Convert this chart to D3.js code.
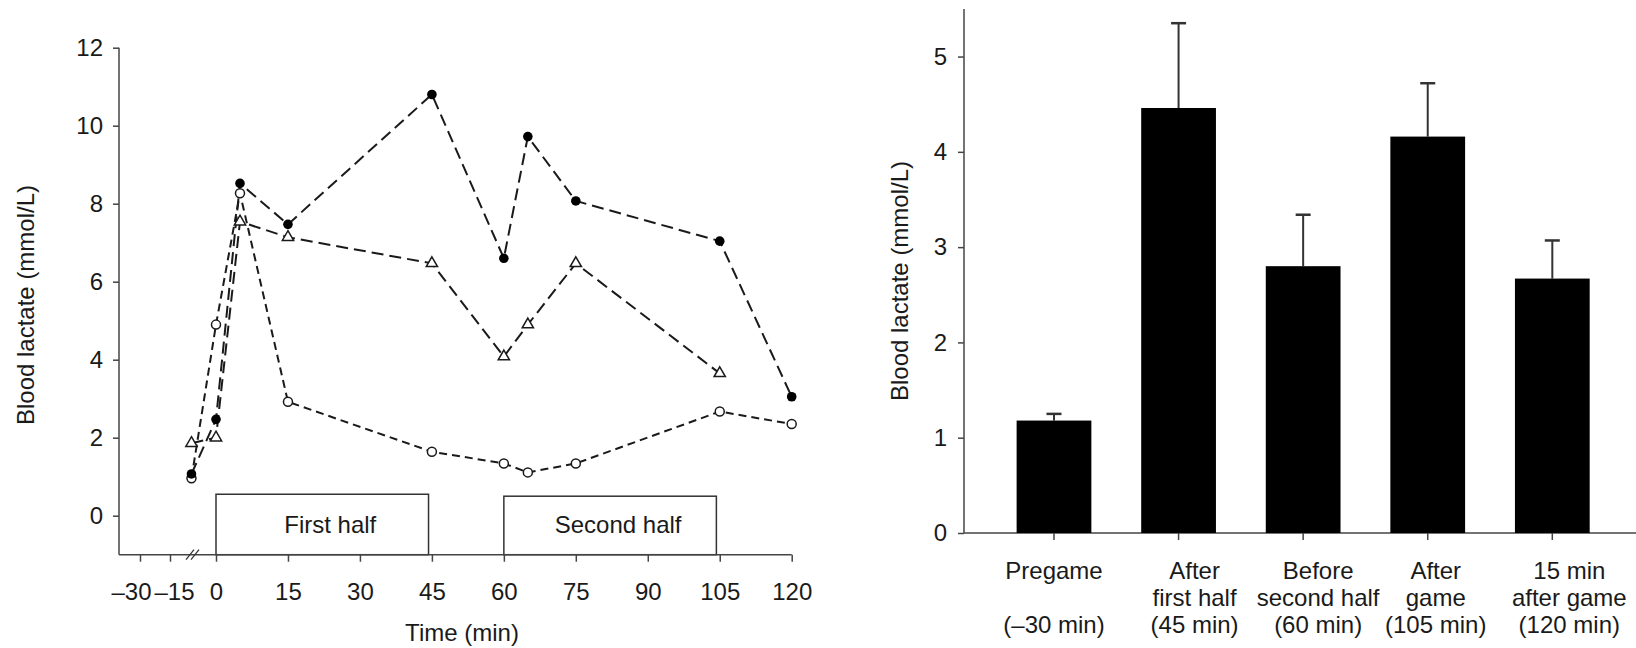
<!DOCTYPE html>
<meta charset="utf-8">
<script src="https://d3js.org/d3.v7.min.js"></script>
<style>
  body { margin: 0; background: #fff; }
  text { font-family: "Liberation Sans", Arial, sans-serif; fill: #1a1a1a; }
</style>
<svg id="chart" width="1636" height="648"></svg>
<script>

// ---- data: left panel (lactate over time, three players) ----
const times = [-8, 0, 5, 15, 45, 60, 65, 75, 105, 120];   // -8 = pregame point drawn left of the break
const filledSeries = [1.07, 2.47, 8.52, 7.47, 10.8, 6.6, 9.72, 8.07, 7.04, 3.05];
const triangleSeries = [1.86, 2.0, 7.54, 7.14, 6.47, 4.08, 4.9, 6.47, 3.65, null];
const openSeries = [0.96, 4.9, 8.27, 2.92, 1.64, 1.34, 1.11, 1.34, 2.67, 2.35];
const timeTicks = [-30, -15, 0, 15, 30, 45, 60, 75, 90, 105, 120];
const lactateTicks = [0, 2, 4, 6, 8, 10, 12];
const halfNames = ["First half", "Second half"];
const halfStart = [0, 60];
const halfEnd = [44.3, 104.3];
const halfTop = [0.55, 0.5];

// ---- data: right panel (mean +/- SD) ----
const phaseLine1 = ["Pregame", "After", "Before", "After", "15 min"];
const phaseLine2 = ["", "first half", "second half", "game", "after game"];
const phaseLine3 = ["(\u201330 min)", "(45 min)", "(60 min)", "(105 min)", "(120 min)"];
const barMeans = [1.18, 4.46, 2.80, 4.16, 2.67];
const barSD = [0.07, 0.89, 0.54, 0.56, 0.40];
const barTicks = [0, 1, 2, 3, 4, 5];

const svg = d3.select("#chart");
const ink = "#1a1a1a";

// =============== left panel ===============
const x = d3.scaleLinear()
  .domain([-30, -15, 0, 120])
  .range([140, 170, 216, 791.7]);   // broken axis: pre-game part compressed
const y = d3.scaleLinear()
  .domain([-1, 12])
  .range([554.7, 47.7]);

const left = svg.append("g");

// half boxes
halfNames.forEach(function (name, i) {
  left.append("rect")
    .attr("x", x(halfStart[i]))
    .attr("y", y(halfTop[i]))
    .attr("width", x(halfEnd[i]) - x(halfStart[i]))
    .attr("height", y(-1) - y(halfTop[i]))
    .attr("fill", "none")
    .attr("stroke", "#333")
    .attr("stroke-width", 1.5);
  left.append("text")
    .attr("x", (x(halfStart[i]) + x(halfEnd[i])) / 2 + 8)
    .attr("y", 533)
    .attr("text-anchor", "middle")
    .attr("font-size", 24)
    .text(name);
});

// axes
const yAxisL = left.append("g")
  .attr("transform", "translate(119,0)")
  .call(d3.axisLeft(y).tickValues(lactateTicks).tickSize(6).tickSizeOuter(0).tickPadding(10));
yAxisL.select(".domain").remove();
left.append("line")
  .attr("x1", 119).attr("x2", 119)
  .attr("y1", y(12)).attr("y2", y(-1))
  .attr("stroke", "#444").attr("stroke-width", 1.5);

const xAxisL = left.append("g")
  .attr("transform", `translate(0,${y(-1)})`)
  .call(d3.axisBottom(x).tickValues(timeTicks).tickSize(7).tickPadding(21)
    .tickFormat(d => d < 0 ? "\u2013" + Math.abs(d) : d));
xAxisL.select(".domain").remove();
// the two pre-game labels crowd each other; nudge them apart
xAxisL.selectAll(".tick text").attr("dx", d => d === -30 ? -9 : d === -15 ? 4 : 0);
left.append("line")
  .attr("x1", 119).attr("x2", x(120))
  .attr("y1", y(-1)).attr("y2", y(-1))
  .attr("stroke", "#444").attr("stroke-width", 1.5);

[yAxisL, xAxisL].forEach(function (g) {
  g.selectAll(".tick line").attr("stroke", "#444").attr("stroke-width", 1.5);
  g.selectAll(".tick text").attr("font-size", 24).attr("fill", ink)
    .style("font-family", "'Liberation Sans', Arial, sans-serif");
});

// axis break marks
[0, 5].forEach(function (off) {
  left.append("line")
    .attr("x1", 186 + off).attr("x2", 194 + off)
    .attr("y1", y(-1) + 5).attr("y2", y(-1) - 5)
    .attr("stroke", "#333").attr("stroke-width", 1.3);
});

left.append("text")
  .attr("x", 462).attr("y", 641)
  .attr("text-anchor", "middle")
  .attr("font-size", 24)
  .text("Time (min)");
left.append("text")
  .attr("transform", "translate(34,305) rotate(-90)")
  .attr("text-anchor", "middle")
  .attr("font-size", 24)
  .text("Blood lactate (mmol/L)");

// series lines
function seriesLine(values, dash) {
  const pts = times.map((t, i) => [t, values[i]]).filter(p => p[1] != null);
  left.append("path")
    .datum(pts)
    .attr("d", d3.line().x(d => x(d[0])).y(d => y(d[1])))
    .attr("fill", "none")
    .attr("stroke", ink)
    .attr("stroke-width", 2)
    .attr("stroke-dasharray", dash);
  return pts;
}
const openPts = seriesLine(openSeries, "8,5");
const triPts = seriesLine(triangleSeries, "12,6");
const filledPts = seriesLine(filledSeries, "12,6");

left.append("g").selectAll("circle")
  .data(openPts).join("circle")
  .attr("cx", d => x(d[0])).attr("cy", d => y(d[1]))
  .attr("r", 4.5)
  .attr("fill", "#fff").attr("stroke", ink).attr("stroke-width", 1.5);

left.append("g").selectAll("path")
  .data(triPts).join("path")
  .attr("transform", d => `translate(${x(d[0])},${y(d[1])})`)
  .attr("d", d3.symbol().type(d3.symbolTriangle).size(55))
  .attr("fill", "#fff").attr("stroke", ink).attr("stroke-width", 1.5);

left.append("g").selectAll("circle")
  .data(filledPts).join("circle")
  .attr("cx", d => x(d[0])).attr("cy", d => y(d[1]))
  .attr("r", 4.8)
  .attr("fill", "#000");

// =============== right panel ===============
const xb = d3.scaleBand()
  .domain(phaseLine1.map((d, i) => i))
  .range([991.7, 1614.6])
  .paddingInner(0.4)
  .paddingOuter(0.2);
const yb = d3.scaleLinear()
  .domain([0, 5.5])
  .range([533, 8.9]);

const right = svg.append("g");

const yAxisR = right.append("g")
  .attr("transform", "translate(964,0)")
  .call(d3.axisLeft(yb).tickValues(barTicks).tickFormat(d3.format("d"))
    .tickSize(6).tickSizeOuter(0).tickPadding(11));
yAxisR.select(".domain").remove();
yAxisR.selectAll(".tick line").attr("stroke", "#444").attr("stroke-width", 1.5);
yAxisR.selectAll(".tick text").attr("font-size", 24).attr("fill", ink)
  .style("font-family", "'Liberation Sans', Arial, sans-serif");
right.append("line")
  .attr("x1", 964).attr("x2", 964)
  .attr("y1", yb(5.5)).attr("y2", yb(0))
  .attr("stroke", "#444").attr("stroke-width", 1.5);
right.append("line")
  .attr("x1", 964).attr("x2", 1636)
  .attr("y1", yb(0)).attr("y2", yb(0))
  .attr("stroke", "#444").attr("stroke-width", 1.5);

// category ticks
right.append("g").selectAll("line")
  .data(barMeans).join("line")
  .attr("x1", (d, i) => xb(i) + xb.bandwidth() / 2)
  .attr("x2", (d, i) => xb(i) + xb.bandwidth() / 2)
  .attr("y1", yb(0)).attr("y2", yb(0) + 7)
  .attr("stroke", "#444").attr("stroke-width", 1.5);

// error bars (upper only)
const cap = 15;
right.append("g").selectAll("g")
  .data(barMeans).join("g")
  .each(function (d, i) {
    const cx = xb(i) + xb.bandwidth() / 2;
    const g = d3.select(this);
    g.append("line")
      .attr("x1", cx).attr("x2", cx)
      .attr("y1", yb(d)).attr("y2", yb(d + barSD[i]))
      .attr("stroke", "#333").attr("stroke-width", 2);
    g.append("line")
      .attr("x1", cx - cap / 2).attr("x2", cx + cap / 2)
      .attr("y1", yb(d + barSD[i])).attr("y2", yb(d + barSD[i]))
      .attr("stroke", "#333").attr("stroke-width", 2.5);
  });

// bars
right.append("g").selectAll("rect")
  .data(barMeans).join("rect")
  .attr("x", (d, i) => xb(i))
  .attr("y", d => yb(d))
  .attr("width", xb.bandwidth())
  .attr("height", d => yb(0) - yb(d))
  .attr("fill", "#000");

// category labels (three lines)
const labelShift = [0, 16, 15, 8, 17];
[phaseLine1, phaseLine2, phaseLine3].forEach(function (lines, row) {
  right.append("g").selectAll("text")
    .data(lines).join("text")
    .attr("x", (d, i) => xb(i) + xb.bandwidth() / 2 + labelShift[i])
    .attr("y", 579 + row * 27)
    .attr("text-anchor", "middle")
    .attr("font-size", 24)
    .text(d => d);
});

right.append("text")
  .attr("transform", "translate(908,281) rotate(-90)")
  .attr("text-anchor", "middle")
  .attr("font-size", 24)
  .text("Blood lactate (mmol/L)");

</script>
